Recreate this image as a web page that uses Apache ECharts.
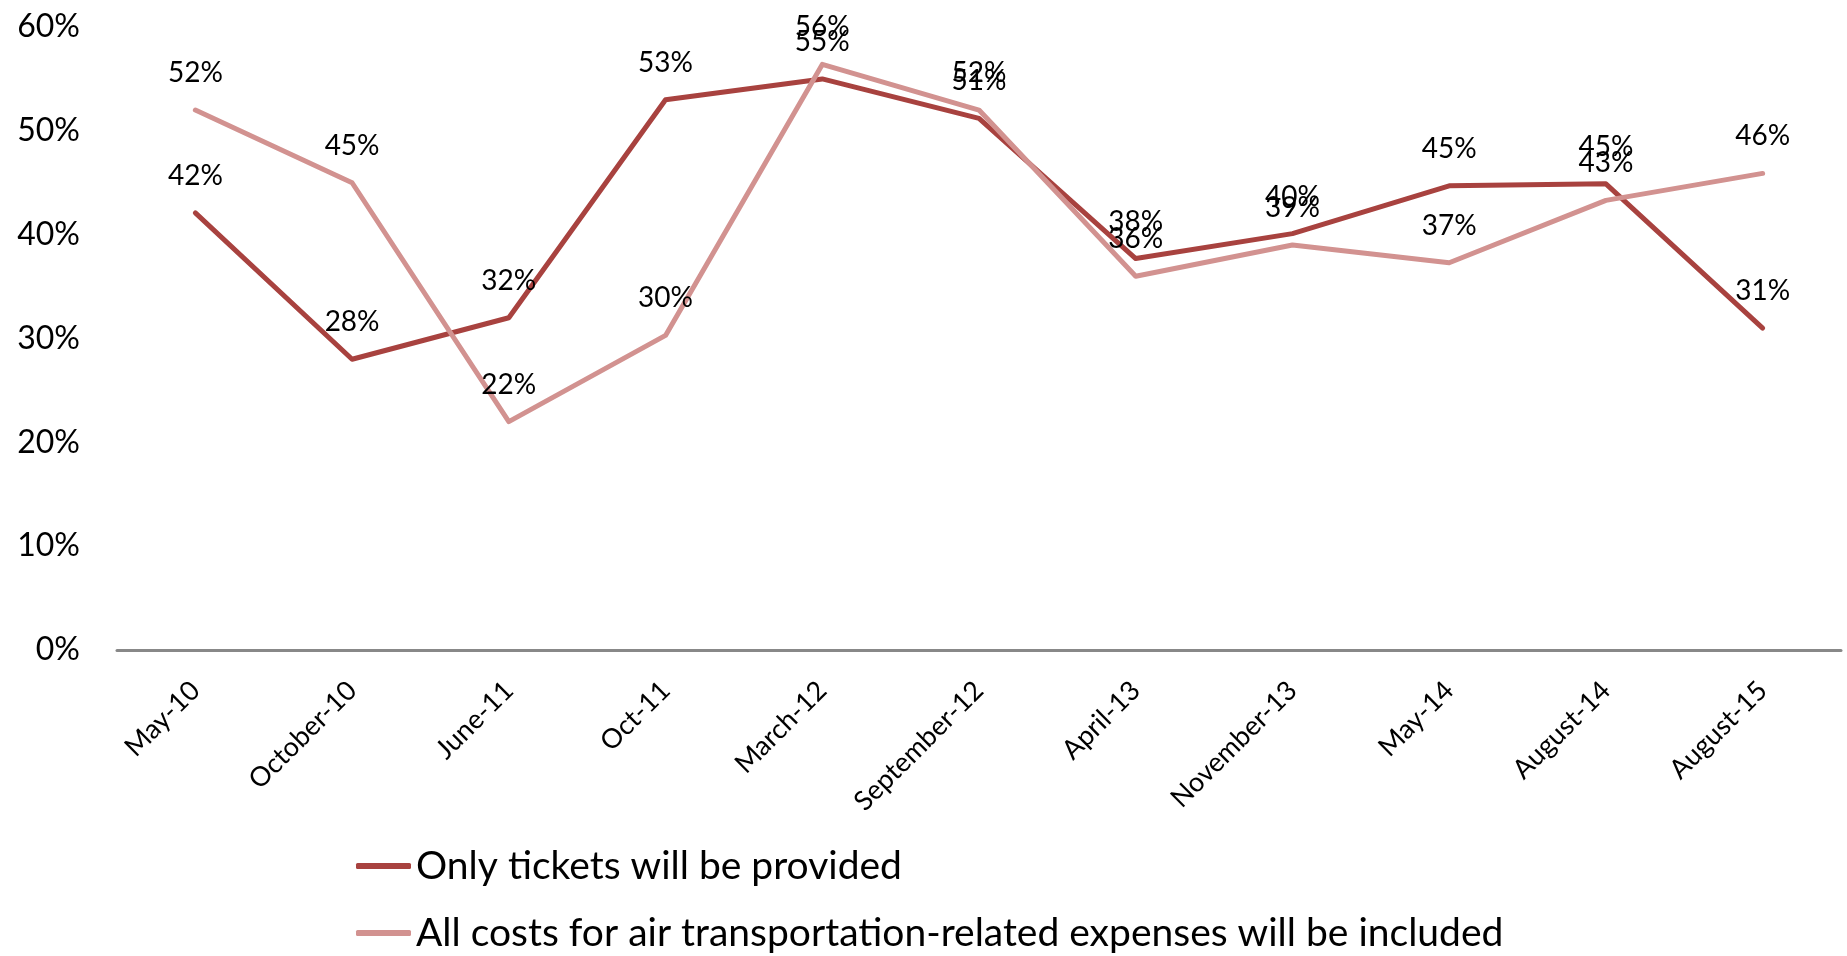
<!DOCTYPE html>
<html>
<head>
<meta charset="utf-8">
<title>Air ticket coverage</title>
<script src="https://cdn.jsdelivr.net/npm/echarts@6/dist/echarts.min.js"></script>
<style>
  html, body { margin: 0; padding: 0; background: #ffffff; }
  #chart { width: 1847px; height: 956px; }
</style>
</head>
<body>
<div id="chart"></div>
<script>
// Survey waves
const categories = ['May-10', 'October-10', 'June-11', 'Oct-11', 'March-12', 'September-12',
  'April-13', 'November-13', 'May-14', 'August-14', 'August-15'];

// Share of respondents, in percent
const onlyTickets = [42.1, 28.0, 32.0, 53.0, 55.0, 51.2, 37.7, 40.1, 44.7, 44.9, 31.0];
const allCosts = [52.0, 45.0, 22.0, 30.3, 56.4, 52.0, 36.0, 39.0, 37.3, 43.3, 45.9];

const seriesNames = ['Only tickets will be provided',
  'All costs for air transportation-related expenses will be included'];

// Y axis range and step, in percent
const yMin = 0, yMax = 60, yStep = 10;

const FONT = 'Lato, "Open Sans", sans-serif';
const DARK = '#a8423f';
const LIGHT = '#d29290';

function lineSeries(name, data, color) {
  return {
    name: name,
    type: 'line',
    data: data,
    symbol: 'circle',
    symbolSize: 2,
    showSymbol: true,
    itemStyle: { color: color },
    lineStyle: { color: color, width: 5, cap: 'round', join: 'round' },
    label: {
      show: true,
      position: 'top',
      distance: 22,
      fontFamily: FONT,
      fontSize: 28,
      color: '#000000',
      formatter: p => Math.round(p.value) + '%'
    },
    emphasis: { disabled: true },
    animation: false
  };
}

// One legend block per series, stacked vertically
function legendBlock(name, top) {
  return {
    left: 351,
    top: top,
    itemWidth: 55,
    itemHeight: 6,
    icon: 'roundRect',
    selectedMode: false,
    textStyle: { fontFamily: FONT, fontSize: 39, color: '#000000', lineHeight: 44 },
    data: [name]
  };
}

const chart = echarts.init(document.getElementById('chart'), null, { renderer: 'canvas' });
chart.setOption({
  backgroundColor: '#ffffff',
  animation: false,
  grid: { left: 117, right: 6, top: 27, bottom: 306, containLabel: false },
  xAxis: {
    type: 'category',
    data: categories,
    boundaryGap: true,
    axisLine: { show: true, lineStyle: { color: '#888888', width: 3 } },
    axisTick: { show: false },
    axisLabel: {
      rotate: 45,
      interval: 0,
      margin: 36,
      fontFamily: FONT,
      fontSize: 27,
      color: '#000000'
    },
    splitLine: { show: false }
  },
  yAxis: {
    type: 'value',
    min: yMin,
    max: yMax,
    interval: yStep,
    axisLine: { show: false },
    axisTick: { show: false },
    splitLine: { show: false },
    axisLabel: {
      margin: 37,
      fontFamily: FONT,
      fontSize: 32,
      color: '#000000',
      formatter: '{value}%'
    }
  },
  legend: [
    legendBlock(seriesNames[0], 839),
    legendBlock(seriesNames[1], 906)
  ],
  series: [
    lineSeries(seriesNames[0], onlyTickets, DARK),
    lineSeries(seriesNames[1], allCosts, LIGHT)
  ]
});
</script>
</body>
</html>
